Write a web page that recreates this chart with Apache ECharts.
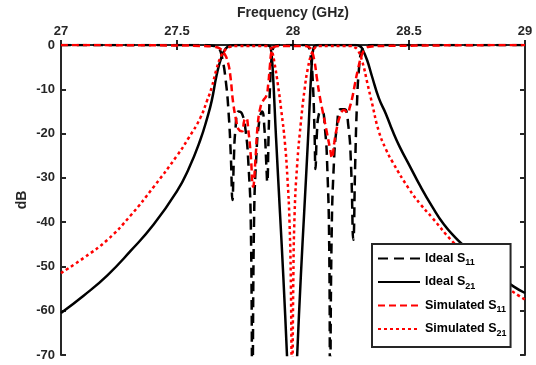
<!DOCTYPE html>
<html><head><meta charset="utf-8">
<script src="https://cdn.jsdelivr.net/npm/echarts@6/dist/echarts.min.js"></script>
<style>html,body{margin:0;padding:0;background:#fff}#c{width:536px;height:365px}</style>
</head><body><div id="c"></div>
<script>
// ---- data ----
const seriesNames = ['Ideal S11', 'Ideal S21', 'Simulated S11', 'Simulated S21'];

const idealS11Freq = [27.0,27.6,27.66,27.68,27.695,27.71,27.722,27.732,27.739,27.745,27.752,27.765,27.78,27.795,27.808,27.818,27.825,27.832,27.842,27.855,27.867,27.877,27.885,27.889,27.895,27.902,27.91,27.92,27.94,28.05,28.065,28.075,28.085,28.093,28.097,28.103,28.112,28.125,28.138,28.148,28.156,28.16,28.166,28.176,28.19,28.205,28.222,28.238,28.25,28.26,28.268,28.276,28.285,28.295,28.31,28.34,29.0];
const idealS11Db = [0,0,-0.2,-0.7,-3,-8,-15,-25,-35,-26,-19,-15,-15.5,-19,-27,-40,-80,-40,-25,-17,-15,-19,-27,-31,-20,-8,-2,-0.3,0,0,-0.3,-2,-8,-20,-28,-20,-15.5,-15,-19,-28,-45,-80,-45,-27,-18,-14.5,-14.5,-18,-27,-44,-27,-13,-5,-1.5,-0.3,0,0];

const idealS21Freq = [27.0,27.1,27.2,27.3,27.4,27.5,27.55,27.6,27.63,27.65,27.67,27.69,27.71,27.73,27.75,27.88,27.9,27.905,27.912,27.927,27.944,27.958,27.974,27.99,28.002,28.018,28.034,28.048,28.065,28.08,28.087,28.095,28.11,28.27,28.29,28.3,28.32,28.34,28.37,28.4,28.43,28.46,28.5,28.55,28.6,28.65,28.7,28.75,28.8,28.85,28.9,28.95,29.0];
const idealS21Db = [-60.5,-56.5,-52,-46.5,-40.5,-33,-28,-21.5,-16.5,-12.5,-7,-3,-0.8,-0.1,0,0,-0.3,-1,-5,-21,-38,-52,-70,-90,-90,-70,-52,-38,-21,-5,-1,-0.2,0,0,-0.3,-1,-3.5,-7,-12,-15.5,-19.5,-23,-27,-32,-36.5,-40.5,-43.5,-46,-48.5,-50.5,-52.5,-54.5,-56];

const simS11Freq = [27.0,27.5,27.6,27.66,27.685,27.705,27.72,27.73,27.742,27.755,27.765,27.78,27.79,27.798,27.808,27.818,27.828,27.838,27.848,27.86,27.872,27.885,27.893,27.9,27.907,27.915,27.94,28.05,28.07,28.08,28.092,28.103,28.115,28.128,28.145,28.16,28.168,28.178,28.19,28.203,28.22,28.235,28.245,28.255,28.268,28.28,28.295,28.31,28.33,28.4,29.0];
const simS11Db = [0,-0.1,-0.2,-0.4,-0.8,-2,-4,-7,-13,-17,-19,-19.5,-17,-16.5,-19.5,-25,-32,-26,-18,-14,-12.5,-11.5,-9,-5,-1.5,-0.5,-0.2,-0.2,-0.5,-1.2,-3.5,-7.5,-11.5,-15,-19.5,-23.5,-25.5,-22,-18.5,-16,-14.7,-15.3,-14,-12,-8.5,-5.5,-2.5,-1,-0.4,-0.2,0];

const simS21Freq = [27.0,27.1,27.2,27.3,27.4,27.5,27.55,27.6,27.63,27.65,27.67,27.69,27.71,27.73,27.76,27.88,27.9,27.91,27.92,27.935,27.95,27.965,27.976,27.985,27.991,27.996,28.001,28.007,28.018,28.033,28.05,28.065,28.08,28.095,28.11,28.25,28.265,28.28,28.3,28.32,28.34,28.37,28.4,28.43,28.5,28.55,28.6,28.69,28.8,28.9,29.0];
const simS21Db = [-51.5,-48,-44,-38.5,-32,-25,-21,-16.5,-12.5,-9.5,-5.5,-2.5,-1,-0.4,-0.2,-0.2,-0.5,-1.5,-4,-9,-15,-22,-30,-40,-55,-85,-55,-38,-27,-18,-10,-5,-2,-0.6,-0.2,-0.2,-0.5,-1.2,-4,-8.5,-13,-19.5,-23.5,-26.5,-32.5,-36,-39,-44.5,-50,-54,-57.5];

const xTickInterval = 0.5, xMin = 27, xMax = 29;
const yTickInterval = 10, yMin = -70, yMax = 0;

// ---- chart ----
const zip = (f, v) => f.map((x, i) => [x, v[i]]);
const FONT = 'Liberation Sans, Arial, sans-serif';
const AX = '#262626';

const chart = echarts.init(document.getElementById('c'), null, {renderer: 'canvas'});

const mk = (name, f, v, color, type) => ({
  name, type: 'line', data: zip(f, v), symbol: 'none', smooth: 0.5,
  clip: true, lineStyle: {color, width: 2.5, type, cap: 'butt'}, itemStyle: {color}
});

chart.setOption({
  animation: false,
  backgroundColor: '#fff',
  grid: {left: 61, right: 11, top: 45, bottom: 10, containLabel: false, outerBoundsMode: 'none'},
  xAxis: [{
    type: 'value', position: 'top', min: xMin, max: xMax, interval: xTickInterval,
    name: 'Frequency (GHz)', nameLocation: 'middle', nameGap: 25,
    nameTextStyle: {fontFamily: FONT, fontWeight: 'bold', fontSize: 14, color: AX},
    axisLine: {show: true, lineStyle: {color: AX, width: 2}},
    axisTick: {show: true, inside: true, length: 5, lineStyle: {color: AX, width: 2}},
    axisLabel: {fontFamily: FONT, fontWeight: 'bold', fontSize: 13, color: AX, margin: 7},
    splitLine: {show: false}
  }, {
    type: 'value', position: 'bottom', min: xMin, max: xMax, interval: xTickInterval,
    axisLine: {show: true, lineStyle: {color: AX, width: 2}},
    axisTick: {show: true, inside: true, length: 5, lineStyle: {color: AX, width: 2}},
    axisLabel: {show: false}, splitLine: {show: false}
  }],
  yAxis: [{
    type: 'value', position: 'left', min: yMin, max: yMax, interval: yTickInterval,
    name: 'dB', nameLocation: 'middle', nameGap: 32, nameRotate: 90, nameMoveOverlap: false,
    nameTextStyle: {fontFamily: FONT, fontWeight: 'bold', fontSize: 14, color: AX},
    axisLine: {show: true, lineStyle: {color: AX, width: 2}},
    axisTick: {show: true, inside: true, length: 5, lineStyle: {color: AX, width: 2}},
    axisLabel: {fontFamily: FONT, fontWeight: 'bold', fontSize: 13, color: AX, margin: 6},
    splitLine: {show: false}
  }, {
    type: 'value', position: 'right', min: yMin, max: yMax, interval: yTickInterval,
    axisLine: {show: true, lineStyle: {color: AX, width: 2}},
    axisTick: {show: true, inside: true, length: 5, lineStyle: {color: AX, width: 2}},
    axisLabel: {show: false}, splitLine: {show: false}
  }],
  legend: {
    orient: 'vertical', left: 372, top: 244,
    data: seriesNames, icon: 'inherit',
    itemStyle: {opacity: 0},
    backgroundColor: '#fff', borderColor: AX, borderWidth: 2,
    padding: [8, 4, 9, 5], itemWidth: 42, itemHeight: 14, itemGap: 8,
    formatter: function (name) {
      const m = name.match(/^(.*S)(\d+)$/);
      return '{t|' + m[1] + '}{s|' + m[2] + '}';
    },
    textStyle: {
      fontFamily: FONT, fontWeight: 'bold', fontSize: 12.5, color: '#000',
      rich: {
        t: {fontFamily: FONT, fontWeight: 'bold', fontSize: 12.5, color: '#000'},
        s: {fontFamily: FONT, fontWeight: 'bold', fontSize: 9, color: '#000', padding: [9, 0, 0, 0]}
      }
    }
  },
  series: [
    mk('Ideal S11', idealS11Freq, idealS11Db, '#000000', [10, 6]),
    mk('Ideal S21', idealS21Freq, idealS21Db, '#000000', 'solid'),
    mk('Simulated S11', simS11Freq, simS11Db, '#ff0000', [7, 4]),
    mk('Simulated S21', simS21Freq, simS21Db, '#ff0000', [3, 3])
  ]
});
</script></body></html>
